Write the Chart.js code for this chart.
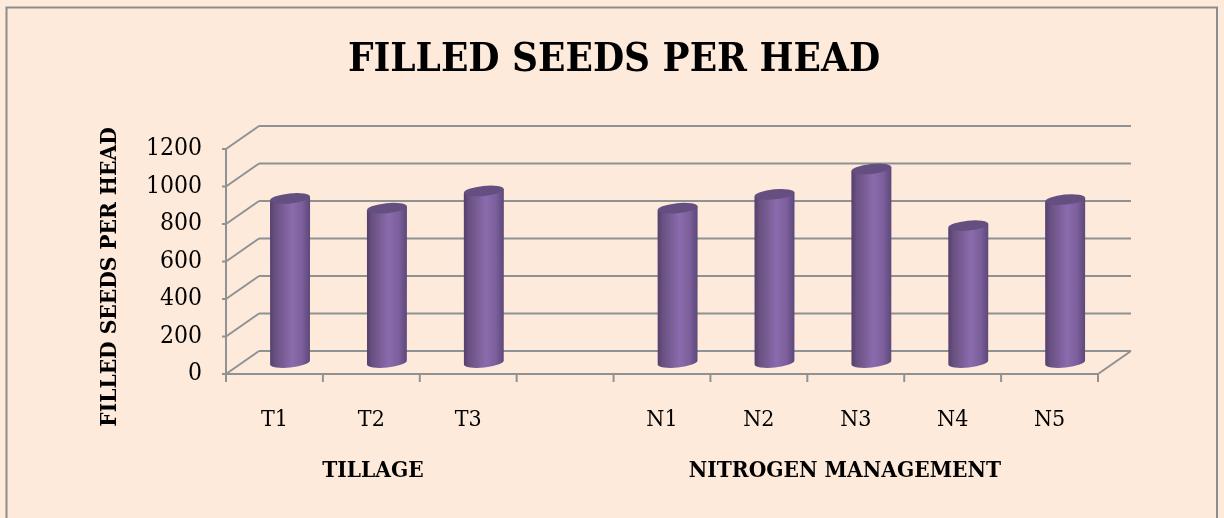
<!DOCTYPE html>
<html><head><meta charset="utf-8">
<style>html,body{margin:0;padding:0;background:#fff}canvas{display:block}</style>
<script src="https://cdn.jsdelivr.net/npm/chart.js@4"></script></head>
<body><div style="width:1224px;height:518px"><canvas id="c" width="1224" height="518"></canvas></div>
<script>
const categories = ["T1","T2","T3","","N1","N2","N3","N4","N5"];
const groupNames = ["TILLAGE","NITROGEN MANAGEMENT"];
const seedValues = [875,823,915,null,823,897,1032,730,869];
const titleText = "FILLED SEEDS PER HEAD";
const groupCentres = [1.517,6.388];
const serif = "'DejaVu Serif Condensed','DejaVu Serif'";
const grey = "#8e9292";

function line(ctx,x1,y1,x2,y2){ctx.beginPath();ctx.moveTo(x1,y1);ctx.lineTo(x2,y2);ctx.stroke();}

const scenery = {
  id:"scenery",
  beforeDraw(chart){
    const ctx=chart.ctx; ctx.save();
    ctx.fillStyle="#fdeadb"; ctx.fillRect(0,0,1224,518);
    ctx.strokeStyle="#8c8c8c"; ctx.lineWidth=2;
    ctx.beginPath();ctx.moveTo(6.5,519);ctx.lineTo(6.5,7.5);ctx.lineTo(1217,7.5);ctx.lineTo(1217,519);ctx.stroke();
    ctx.restore();
  },
  beforeDatasetsDraw(chart){
    const ctx=chart.ctx,{left,right,top,bottom}=chart.chartArea,dx=33,dy=-23;
    const ys=chart.scales.y;
    ctx.save(); ctx.strokeStyle=grey; ctx.lineWidth=2;
    ys.ticks.forEach((t)=>{
      const y=ys.getPixelForValue(t.value);
      line(ctx,left,y,left+dx,y+dy);
      line(ctx,left+dx,y+dy,right+dx,y+dy);
      line(ctx,left-4,y,left,y);
    });
    line(ctx,left,top,left,bottom);
    line(ctx,left,bottom,right,bottom);
    line(ctx,right,bottom,right+dx,bottom+dy);
    const step=(right-left)/categories.length;
    for(let i=0;i<=categories.length;i++){const x=left+i*step;line(ctx,x,bottom,x,bottom+8);}
    ctx.translate(110,277);ctx.rotate(-Math.PI/2);
    ctx.fillStyle="#000";ctx.font="bold 22.5px "+serif;ctx.textAlign="center";ctx.textBaseline="middle";
    ctx.fillText(titleText,0,0);
    ctx.restore();
  },
  afterDatasetsDraw(chart){
    const ctx=chart.ctx,dxBar=15.6,dyBar=-11.5,tilt=-0.1,ry=5;
    chart.getDatasetMeta(0).data.forEach((el,i)=>{
      if(seedValues[i]==null) return;
      const cx=el.x+dxBar,rx=el.width/2,yT=el.y+dyBar,yB=el.base+dyBar;
      const g=ctx.createLinearGradient(cx-rx,0,cx+rx,0);
      g.addColorStop(0,"#533f6e");g.addColorStop(0.12,"#68507f");g.addColorStop(0.55,"#8a6bad");
      g.addColorStop(0.8,"#7c5f9c");g.addColorStop(1,"#5c4879");
      ctx.save();
      ctx.fillStyle=g;
      ctx.beginPath();
      ctx.ellipse(cx,yB,rx,ry,tilt,Math.PI,0,true);
      ctx.lineTo(cx+rx,yT-rx*Math.sin(-tilt));
      ctx.lineTo(cx-rx,yT+rx*Math.sin(-tilt));
      ctx.closePath();ctx.fill();
      ctx.fillStyle="#654e80";
      ctx.beginPath();ctx.ellipse(cx,yT,rx,ry,tilt,0,Math.PI*2);ctx.fill();
      ctx.restore();
    });
  }
};

new Chart(document.getElementById("c"),{
  type:"bar",
  data:{labels:categories,datasets:[{data:seedValues,backgroundColor:"transparent",borderWidth:0,categoryPercentage:1,barPercentage:0.413}]},
  plugins:[scenery],
  options:{
    responsive:false,animation:false,
    layout:{padding:{left:130,right:126,top:0,bottom:0}},
    plugins:{
      legend:{display:false},tooltip:{enabled:false},
      title:{display:true,text:titleText,color:"#000",font:{family:serif,size:40,weight:"bold"},padding:{top:37,bottom:64}}
    },
    scales:{
      x:{type:"category",grid:{display:false},border:{display:false},
        ticks:{color:"#000",font:{family:serif,size:23},padding:24,autoSkip:false,maxRotation:0},
        afterFit(s){s.height=74;}},
      x2:{type:"linear",position:"bottom",offset:false,min:0,max:categories.length,grid:{display:false},border:{display:false},
        afterBuildTicks(s){s.ticks=groupCentres.map(v=>({value:v}));},
        ticks:{color:"#000",font:{family:serif,size:22.5,weight:"bold"},padding:2,autoSkip:false,maxRotation:0,
          callback:(v,i)=>groupNames[i]},
        afterFit(s){s.height=70;}},
      y:{min:0,max:1200,grid:{display:false},border:{display:false},
        ticks:{stepSize:200,color:"#000",font:{family:serif,size:24.5},padding:16,callback:(v)=>String(v)},
        afterFit(s){s.width=96;}}
    }
  }
});
</script></body></html>
